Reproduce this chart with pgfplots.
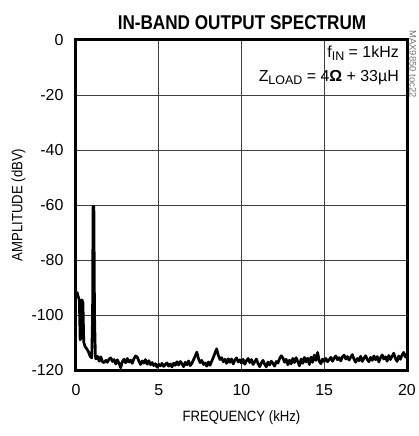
\documentclass[border=0pt]{standalone}
\usepackage{fontspec}
\setmainfont{Liberation Sans}[FakeStretch=0.88]
\newfontfamily\tickfont{Liberation Sans}
\newfontfamily\titlefont{Liberation Sans}[FakeStretch=0.86]
\usepackage{pgfplots}
\pgfplotsset{compat=1.18}
\newcommand\sub[1]{\raisebox{-0.35ex}{\fontsize{12.5}{12.5}\selectfont #1}}

\begin{document}
\begin{tikzpicture}
\useasboundingbox (-76bp,-66bp) rectangle (343bp,370bp);
\begin{axis}[
  at={(0,0)}, anchor=south west,
  scale only axis, width=331bp, height=330bp,
  xmin=0, xmax=20, ymin=-120, ymax=0,
  xtick={0,5,10,15,20}, ytick={-120,-100,-80,-60,-40,-20,0},
  grid=major,
  major grid style={line width=0.8bp, black!75},
  axis line style={line width=3bp},
  tick style={draw=none},
  /pgf/number format/assume math mode=true,
  ticklabel style={font=\tickfont\fontsize{16}{16}\selectfont},
  xticklabel style={yshift=-11bp},
  yticklabel style={xshift=-9bp},
  xlabel={FREQUENCY (kHz)},
  ylabel={AMPLITUDE (dBV)},
  label style={font=\fontsize{15}{17}\selectfont},
  xlabel style={at={(axis description cs:0.5,-0.145)}, anchor=center},
  ylabel style={at={(axis description cs:-0.174,0.5)}, anchor=center, rotate=0},
  clip=true,
]
\addplot[line width=2.7bp, black, line join=round] coordinates {
(0.05,-91.5) (0.12,-93.0) (0.20,-94.5) (0.25,-109) (0.30,-108.5) (0.36,-94.5)
(0.42,-95.5) (0.47,-110) (0.55,-111.5) (0.65,-112.3) (0.75,-113.3) (0.85,-115.0)
(0.95,-115.6) (1.00,-100) (1.03,-60.5) (1.08,-60.5) (1.12,-100) (1.17,-114.5)
(1.20,-116.0) (1.30,-115.0) (1.40,-116.8) (1.50,-115.2) (1.60,-117.0) (1.70,-117.3)
(1.80,-116.5) (1.90,-117.2) (2.00,-116.0) (2.10,-115.6) (2.20,-116.9) (2.30,-116.2)
(2.40,-117.8) (2.50,-116.3) (2.60,-117.5) (2.70,-119.2) (2.80,-117.0) (2.90,-116.1)
(3.00,-117.4) (3.10,-115.8) (3.20,-117.1) (3.30,-116.4) (3.40,-117.6) (3.50,-115.9)
(3.60,-114.9) (3.70,-115.3) (3.80,-116.8) (3.90,-118.0) (4.00,-116.7) (4.10,-117.5)
(4.20,-116.2) (4.30,-117.9) (4.40,-116.6) (4.50,-118.1) (4.60,-117.3) (4.70,-118.4)
(4.80,-117.7) (4.90,-119.0) (5.00,-117.9) (5.10,-118.5) (5.20,-117.6) (5.30,-118.7)
(5.40,-118.0) (5.50,-117.4) (5.60,-118.6) (5.70,-117.8) (5.80,-118.9) (5.90,-117.5)
(6.00,-118.3) (6.10,-117.0) (6.20,-118.2) (6.30,-116.9) (6.40,-117.7) (6.50,-118.8)
(6.60,-117.2) (6.70,-118.1) (6.80,-116.7) (6.90,-118.4) (7.00,-117.6) (7.10,-116.3)
(7.20,-115.0) (7.30,-113.5) (7.40,-115.8) (7.50,-117.3) (7.60,-116.5) (7.70,-118.0)
(7.80,-117.4) (7.90,-118.6) (8.00,-117.1) (8.10,-118.3) (8.20,-116.8) (8.30,-115.4)
(8.40,-113.8) (8.50,-112.3) (8.60,-114.7) (8.70,-116.2) (8.80,-115.5) (8.90,-117.0)
(9.00,-116.1) (9.10,-117.6) (9.20,-115.9) (9.30,-117.2) (9.40,-116.0) (9.50,-117.8)
(9.60,-116.4) (9.70,-115.6) (9.80,-117.1) (9.90,-116.3) (10.00,-117.5) (10.10,-116.1)
(10.20,-117.9) (10.30,-116.6) (10.40,-115.8) (10.50,-117.3) (10.60,-116.2) (10.70,-118.0)
(10.80,-117.0) (10.90,-116.0) (11.00,-117.7) (11.10,-118.8) (11.20,-117.4) (11.30,-116.5)
(11.40,-117.9) (11.50,-118.9) (11.60,-117.1) (11.70,-118.2) (11.80,-116.8) (11.90,-117.6)
(12.00,-118.6) (12.10,-116.9) (12.20,-117.5) (12.30,-115.9) (12.40,-114.8) (12.50,-115.6)
(12.60,-117.2) (12.70,-116.1) (12.80,-118.1) (12.90,-116.4) (13.00,-117.8) (13.10,-115.8)
(13.20,-117.3) (13.30,-115.5) (13.40,-116.9) (13.50,-118.5) (13.60,-116.0) (13.70,-117.6)
(13.80,-115.4) (13.90,-117.1) (14.00,-115.7) (14.10,-118.0) (14.20,-115.3) (14.30,-117.2)
(14.40,-114.6) (14.50,-116.5) (14.60,-113.6) (14.70,-116.8) (14.80,-117.7) (14.90,-116.0)
(15.00,-116.9) (15.10,-115.8) (15.20,-117.0) (15.30,-116.2) (15.40,-115.4) (15.50,-116.8)
(15.60,-115.6) (15.70,-114.9) (15.80,-116.3) (15.90,-115.5) (16.00,-116.7) (16.10,-115.2)
(16.20,-114.6) (16.30,-116.0) (16.40,-115.1) (16.50,-116.4) (16.60,-115.3) (16.70,-114.4)
(16.80,-116.1) (16.90,-117.2) (17.00,-115.8) (17.10,-116.6) (17.20,-115.0) (17.30,-116.9)
(17.40,-115.7) (17.50,-114.8) (17.60,-116.2) (17.70,-117.0) (17.80,-115.4) (17.90,-116.5)
(18.00,-114.9) (18.10,-116.3) (18.20,-115.1) (18.30,-117.1) (18.40,-115.6) (18.50,-114.5)
(18.60,-116.0) (18.70,-115.2) (18.80,-116.8) (18.90,-114.7) (19.00,-116.2) (19.10,-115.0)
(19.20,-113.9) (19.30,-115.8) (19.40,-116.9) (19.50,-114.9) (19.60,-116.1) (19.70,-114.6)
(19.80,-113.6) (19.90,-115.3) (20.00,-114.2)
};
\end{axis}
\node[anchor=center, font=\titlefont\bfseries\fontsize{20}{20}\selectfont] at (166bp,347.5bp) {IN-BAND OUTPUT SPECTRUM};
\node[anchor=base east, inner sep=0pt, font=\tickfont\fontsize{16}{16}\selectfont] at (323bp,312bp) {f\sub{IN} = 1kHz};
\node[anchor=base east, inner sep=0pt, font=\tickfont\fontsize{16}{16}\selectfont] at (323bp,288bp) {Z\sub{LOAD} = 4{\bfseries Ω} + 33µH};
\node[rotate=-90, anchor=center, text=black!55, font=\tickfont\fontsize{9.5}{9.5}\selectfont] at (337bp,306bp) {MAX9850 toc22};
\end{tikzpicture}
\end{document}
